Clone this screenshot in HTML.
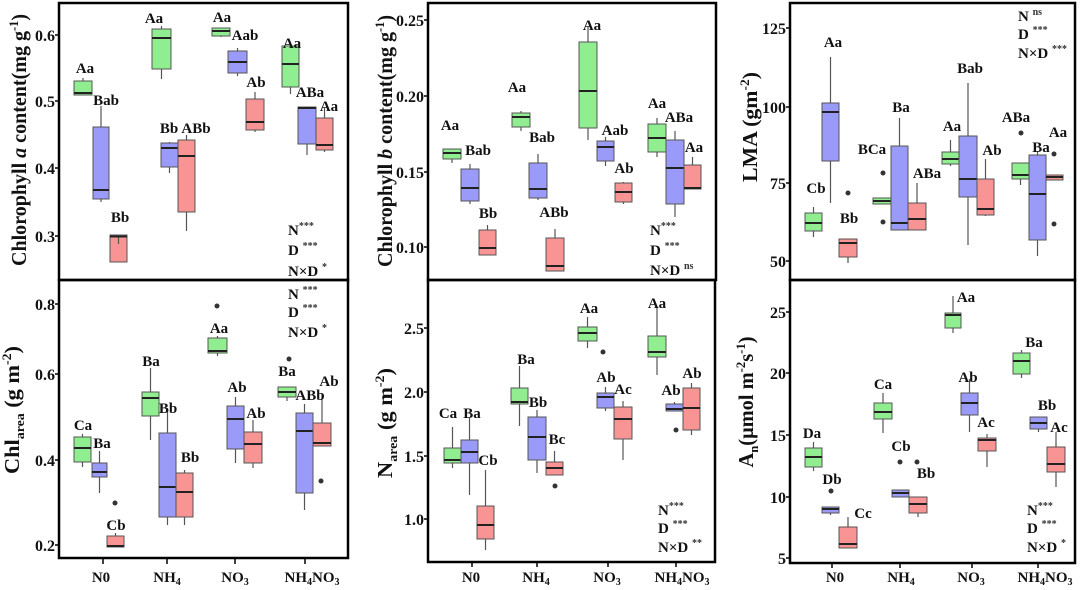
<!DOCTYPE html>
<html><head><meta charset="utf-8"><style>
html,body{margin:0;padding:0;background:#fff}
svg{display:block}
text{font-family:"Liberation Serif",serif;font-weight:bold;fill:#111}
.l{font-size:15px;text-anchor:middle}
.t{font-size:16px;text-anchor:end}
.x{font-size:15px;text-anchor:middle}
.s{font-size:15px}
.sp{font-size:10px;fill:#333}
.y{font-size:21px;text-anchor:middle}
.g{fill:#90EE90;stroke:#555;stroke-width:1}
.b{fill:#9A9AF8;stroke:#555;stroke-width:1}
.r{fill:#F89494;stroke:#555;stroke-width:1}
.w{stroke:#555;stroke-width:1.2}
.m{stroke:#222;stroke-width:2}
.o{fill:#333}
.f{fill:none;stroke:#000;stroke-width:2.5}
.k{stroke:#000;stroke-width:1.5}
</style></head><body>
<svg width="1080" height="590" viewBox="0 0 1080 590" xmlns="http://www.w3.org/2000/svg">
<rect width="1080" height="590" fill="#fff"/>

<!-- ============ Panel 1: Chl a ============ -->
<rect class="f" x="59" y="3" width="289" height="277"/>
<g>
<line class="k" x1="55" y1="35" x2="59" y2="35"/><line class="k" x1="55" y1="101" x2="59" y2="101"/><line class="k" x1="55" y1="168" x2="59" y2="168"/><line class="k" x1="55" y1="236" x2="59" y2="236"/>
<text class="t" x="55" y="41">0.6</text><text class="t" x="55" y="107">0.5</text><text class="t" x="55" y="174">0.4</text><text class="t" x="55" y="242">0.3</text>
</g>
<text class="y" transform="translate(26,140) rotate(-90)" textLength="252" lengthAdjust="spacingAndGlyphs">Chlorophyll <tspan font-style="italic">a</tspan> content(mg g<tspan font-size="13" dy="-8">-1</tspan><tspan dy="8">)</tspan></text>

<line class="w" x1="83" y1="78" x2="83" y2="95"/><rect class="g" x="74" y="81" width="18" height="14"/><line class="m" x1="74" y1="93" x2="92" y2="93"/>
<line class="w" x1="101" y1="106" x2="101" y2="202"/><rect class="b" x="93" y="127" width="16" height="72"/><line class="m" x1="93" y1="190" x2="109" y2="190"/>
<rect class="r" x="110" y="235" width="17" height="27"/><line class="w" x1="118.5" y1="236" x2="118.5" y2="244"/><line class="m" x1="110" y1="236.5" x2="127" y2="236.5"/>
<line class="w" x1="161.5" y1="26" x2="161.5" y2="79"/><rect class="g" x="152" y="29" width="19" height="40"/><line class="m" x1="152" y1="38" x2="171" y2="38"/>
<line class="w" x1="169.5" y1="142" x2="169.5" y2="173"/><rect class="b" x="161" y="143" width="17" height="24"/><line class="m" x1="161" y1="148" x2="178" y2="148"/>
<line class="w" x1="186.5" y1="135" x2="186.5" y2="231"/><rect class="r" x="178" y="140" width="17" height="72"/><line class="m" x1="178" y1="156" x2="195" y2="156"/>
<line class="w" x1="221" y1="28" x2="221" y2="37"/><rect class="g" x="212" y="28" width="18" height="8"/><line class="m" x1="212" y1="31" x2="230" y2="31"/>
<line class="w" x1="237.5" y1="48" x2="237.5" y2="76"/><rect class="b" x="228" y="51" width="19" height="22"/><line class="m" x1="228" y1="62" x2="247" y2="62"/>
<line class="w" x1="255" y1="92" x2="255" y2="132"/><rect class="r" x="246" y="99" width="18" height="31"/><line class="m" x1="246" y1="122" x2="264" y2="122"/>
<line class="w" x1="290.5" y1="43" x2="290.5" y2="94"/><rect class="g" x="282" y="46" width="17" height="41"/><line class="m" x1="282" y1="64" x2="299" y2="64"/>
<line class="w" x1="307" y1="107" x2="307" y2="155"/><rect class="b" x="298" y="107" width="18" height="37"/><line class="m" x1="298" y1="108" x2="316" y2="108"/>
<line class="w" x1="324.5" y1="108" x2="324.5" y2="152"/><rect class="r" x="316" y="118" width="17" height="32"/><line class="m" x1="316" y1="145" x2="333" y2="145"/>

<text class="l" x="85" y="73">Aa</text><text class="l" x="106" y="105">Bab</text><text class="l" x="120" y="222">Bb</text>
<text class="l" x="154" y="23">Aa</text><text class="l" x="169" y="133">Bb</text><text class="l" x="196" y="133">ABb</text>
<text class="l" x="222" y="22">Aa</text><text class="l" x="245" y="40">Aab</text><text class="l" x="256" y="87">Ab</text>
<text class="l" x="292" y="48">Aa</text><text class="l" x="310" y="97">ABa</text><text class="l" x="329" y="111">Aa</text>
<text class="s" x="288" y="235">N<tspan class="sp" dy="-6">***</tspan></text>
<text class="s" x="288" y="255">D <tspan class="sp" dy="-6">***</tspan></text>
<text class="s" x="288" y="276">N×D <tspan class="sp" dy="-6">*</tspan></text>

<!-- ============ Panel 2: Chl b ============ -->
<rect class="f" x="428" y="3" width="288" height="277"/>
<line class="k" x1="424" y1="20" x2="428" y2="20"/><line class="k" x1="424" y1="96" x2="428" y2="96"/><line class="k" x1="424" y1="172" x2="428" y2="172"/><line class="k" x1="424" y1="247" x2="428" y2="247"/>
<text class="t" x="424" y="26">0.25</text><text class="t" x="424" y="102">0.20</text><text class="t" x="424" y="178">0.15</text><text class="t" x="424" y="253">0.10</text>
<text class="y" transform="translate(392,141) rotate(-90)" textLength="252" lengthAdjust="spacingAndGlyphs">Chlorophyll <tspan font-style="italic">b</tspan> content(mg g<tspan font-size="13" dy="-8">-1</tspan><tspan dy="8">)</tspan></text>

<line class="w" x1="452" y1="149" x2="452" y2="163"/><rect class="g" x="443" y="149" width="18" height="10"/><line class="m" x1="443" y1="153" x2="461" y2="153"/>
<line class="w" x1="470" y1="164" x2="470" y2="204"/><rect class="b" x="461" y="169" width="18" height="32"/><line class="m" x1="461" y1="188" x2="479" y2="188"/>
<line class="w" x1="487.5" y1="225" x2="487.5" y2="255"/><rect class="r" x="479" y="230" width="17" height="25"/><line class="m" x1="479" y1="248" x2="496" y2="248"/>
<line class="w" x1="521" y1="111" x2="521" y2="131"/><rect class="g" x="512" y="113" width="18" height="14"/><line class="m" x1="512" y1="117" x2="530" y2="117"/>
<line class="w" x1="538" y1="154" x2="538" y2="200"/><rect class="b" x="529" y="163" width="18" height="35"/><line class="m" x1="529" y1="189" x2="547" y2="189"/>
<line class="w" x1="555" y1="229" x2="555" y2="271"/><rect class="r" x="546" y="238" width="18" height="33"/><line class="m" x1="546" y1="266" x2="564" y2="266"/>
<line class="w" x1="588" y1="27" x2="588" y2="140"/><rect class="g" x="579" y="42" width="18" height="86"/><line class="m" x1="579" y1="91" x2="597" y2="91"/>
<line class="w" x1="605.5" y1="137" x2="605.5" y2="166"/><rect class="b" x="597" y="141" width="17" height="20"/><line class="m" x1="597" y1="147" x2="614" y2="147"/>
<line class="w" x1="623.5" y1="182" x2="623.5" y2="204"/><rect class="r" x="615" y="183" width="17" height="19"/><line class="m" x1="615" y1="192" x2="632" y2="192"/>
<line class="w" x1="657" y1="118" x2="657" y2="157"/><rect class="g" x="648" y="124" width="18" height="28"/><line class="m" x1="648" y1="138" x2="666" y2="138"/>
<line class="w" x1="675" y1="131" x2="675" y2="217"/><rect class="b" x="666" y="140" width="18" height="64"/><line class="m" x1="666" y1="168" x2="684" y2="168"/>
<line class="w" x1="692.5" y1="157" x2="692.5" y2="189"/><rect class="r" x="684" y="165" width="17" height="24"/><line class="m" x1="684" y1="188" x2="701" y2="188"/>

<text class="l" x="450" y="130">Aa</text><text class="l" x="478" y="155">Bab</text><text class="l" x="488" y="218">Bb</text>
<text class="l" x="517" y="92">Aa</text><text class="l" x="542" y="142">Bab</text><text class="l" x="554" y="217">ABb</text>
<text class="l" x="592" y="30">Aa</text><text class="l" x="615" y="135">Aab</text><text class="l" x="624" y="173">Ab</text>
<text class="l" x="657" y="108">Aa</text><text class="l" x="679" y="122">ABa</text><text class="l" x="694" y="152">Aa</text>
<text class="s" x="650" y="235">N<tspan class="sp" dy="-6">***</tspan></text>
<text class="s" x="650" y="255">D <tspan class="sp" dy="-6">***</tspan></text>
<text class="s" x="650" y="275">N×D <tspan class="sp" dy="-6">ns</tspan></text>

<!-- ============ Panel 3: LMA ============ -->
<rect class="f" x="790" y="3" width="285" height="277"/>
<line class="k" x1="786" y1="28" x2="790" y2="28"/><line class="k" x1="786" y1="107" x2="790" y2="107"/><line class="k" x1="786" y1="183" x2="790" y2="183"/><line class="k" x1="786" y1="261" x2="790" y2="261"/>
<text class="t" x="786" y="34">125</text><text class="t" x="786" y="113">100</text><text class="t" x="786" y="189">75</text><text class="t" x="786" y="267">50</text>
<text class="y" transform="translate(757,127) rotate(-90)" textLength="110" lengthAdjust="spacingAndGlyphs">LMA  (gm<tspan font-size="13" dy="-8">-2</tspan><tspan dy="8">)</tspan></text>

<line class="w" x1="813.5" y1="207" x2="813.5" y2="237"/><rect class="g" x="805" y="213" width="17" height="18"/><line class="m" x1="805" y1="223" x2="822" y2="223"/>
<line class="w" x1="830.5" y1="57" x2="830.5" y2="203"/><rect class="b" x="822" y="103" width="17" height="58"/><line class="m" x1="822" y1="112" x2="839" y2="112"/>
<line class="w" x1="848" y1="239" x2="848" y2="263"/><rect class="r" x="839" y="239" width="18" height="18"/><line class="m" x1="839" y1="243" x2="857" y2="243"/><circle class="o" cx="848" cy="193" r="2.5"/>
<rect class="g" x="873" y="198" width="18" height="6"/><line class="m" x1="873" y1="201" x2="891" y2="201"/><circle class="o" cx="883" cy="173" r="2.5"/><circle class="o" cx="883" cy="222" r="2.5"/>
<line class="w" x1="899.5" y1="118" x2="899.5" y2="230"/><rect class="b" x="891" y="146" width="17" height="84"/><line class="m" x1="891" y1="223" x2="908" y2="223"/>
<line class="w" x1="917" y1="183" x2="917" y2="230"/><rect class="r" x="908" y="203" width="18" height="27"/><line class="m" x1="908" y1="219" x2="926" y2="219"/>
<line class="w" x1="950.5" y1="140" x2="950.5" y2="166"/><rect class="g" x="942" y="152" width="17" height="12"/><line class="m" x1="942" y1="159" x2="959" y2="159"/>
<line class="w" x1="968" y1="83" x2="968" y2="245"/><rect class="b" x="959" y="136" width="18" height="61"/><line class="m" x1="959" y1="179" x2="977" y2="179"/>
<line class="w" x1="985.5" y1="159" x2="985.5" y2="216"/><rect class="r" x="977" y="179" width="17" height="36"/><line class="m" x1="977" y1="209" x2="994" y2="209"/>
<line class="w" x1="1020.5" y1="163" x2="1020.5" y2="185"/><rect class="g" x="1012" y="163" width="17" height="16"/><line class="m" x1="1012" y1="175" x2="1029" y2="175"/><circle class="o" cx="1021" cy="133" r="2.5"/>
<line class="w" x1="1037.5" y1="151" x2="1037.5" y2="256"/><rect class="b" x="1029" y="155" width="17" height="85"/><line class="m" x1="1029" y1="194" x2="1046" y2="194"/>
<rect class="r" x="1046" y="175" width="17" height="5"/><line class="m" x1="1046" y1="177" x2="1063" y2="177"/><circle class="o" cx="1054" cy="154" r="2.5"/><circle class="o" cx="1054" cy="224" r="2.5"/>

<text class="l" x="816" y="193">Cb</text><text class="l" x="833" y="47">Aa</text><text class="l" x="849" y="223">Bb</text>
<text class="l" x="872" y="154">BCa</text><text class="l" x="901" y="112">Ba</text><text class="l" x="927" y="178">ABa</text>
<text class="l" x="952" y="131">Aa</text><text class="l" x="970" y="73">Bab</text><text class="l" x="992" y="155">Ab</text>
<text class="l" x="1016" y="122">ABa</text><text class="l" x="1041" y="152">Ba</text><text class="l" x="1058" y="137">Aa</text>
<text class="s" x="1018" y="21">N <tspan class="sp" dy="-6">ns</tspan></text>
<text class="s" x="1018" y="39">D <tspan class="sp" dy="-6">***</tspan></text>
<text class="s" x="1018" y="58">N×D <tspan class="sp" dy="-6">***</tspan></text>

<!-- ============ Panel 4: Chl area ============ -->
<rect class="f" x="59" y="280" width="289" height="278"/>
<line class="k" x1="55" y1="304" x2="59" y2="304"/><line class="k" x1="55" y1="374" x2="59" y2="374"/><line class="k" x1="55" y1="460" x2="59" y2="460"/><line class="k" x1="55" y1="545" x2="59" y2="545"/>
<text class="t" x="55" y="310">0.8</text><text class="t" x="55" y="380">0.6</text><text class="t" x="55" y="466">0.4</text><text class="t" x="55" y="551">0.2</text>
<text class="y" transform="translate(19,410) rotate(-90)" textLength="128" lengthAdjust="spacingAndGlyphs">Chl<tspan font-size="13" dy="5">area</tspan><tspan dy="-5"> (g m</tspan><tspan font-size="13" dy="-8">-2</tspan><tspan dy="8">)</tspan></text>

<line class="w" x1="82.5" y1="434" x2="82.5" y2="467"/><rect class="g" x="74" y="437" width="17" height="25"/><line class="m" x1="74" y1="448" x2="91" y2="448"/>
<line class="w" x1="99.5" y1="451" x2="99.5" y2="493"/><rect class="b" x="92" y="463" width="15" height="14"/><line class="m" x1="92" y1="472" x2="107" y2="472"/><circle class="o" cx="115" cy="503" r="2.5"/>
<line class="w" x1="115.5" y1="533" x2="115.5" y2="547"/><rect class="r" x="107" y="536" width="17" height="11"/><line class="m" x1="107" y1="546" x2="124" y2="546"/>
<line class="w" x1="150.5" y1="368" x2="150.5" y2="440"/><rect class="g" x="142" y="392" width="17" height="24"/><line class="m" x1="142" y1="398" x2="159" y2="398"/>
<line class="w" x1="167.5" y1="408" x2="167.5" y2="525"/><rect class="b" x="159" y="433" width="17" height="84"/><line class="m" x1="159" y1="487" x2="176" y2="487"/>
<line class="w" x1="184.5" y1="470" x2="184.5" y2="525"/><rect class="r" x="176" y="473" width="17" height="44"/><line class="m" x1="176" y1="492" x2="193" y2="492"/>
<line class="w" x1="217.5" y1="336" x2="217.5" y2="356"/><rect class="g" x="208" y="338" width="19" height="15"/><line class="m" x1="208" y1="351" x2="227" y2="351"/><circle class="o" cx="217" cy="306" r="2.5"/>
<line class="w" x1="235.5" y1="397" x2="235.5" y2="463"/><rect class="b" x="227" y="406" width="17" height="43"/><line class="m" x1="227" y1="419" x2="244" y2="419"/>
<line class="w" x1="253" y1="420" x2="253" y2="468"/><rect class="r" x="244" y="432" width="18" height="31"/><line class="m" x1="244" y1="444" x2="262" y2="444"/>
<line class="w" x1="287" y1="387" x2="287" y2="401"/><rect class="g" x="278" y="387" width="18" height="10"/><line class="m" x1="278" y1="392" x2="296" y2="392"/><circle class="o" cx="289" cy="359" r="2.5"/>
<line class="w" x1="304.5" y1="404" x2="304.5" y2="510"/><rect class="b" x="296" y="413" width="17" height="80"/><line class="m" x1="296" y1="431" x2="313" y2="431"/>
<line class="w" x1="322" y1="395" x2="322" y2="446"/><rect class="r" x="313" y="423" width="18" height="23"/><line class="m" x1="313" y1="443" x2="331" y2="443"/><circle class="o" cx="321" cy="481" r="2.5"/>

<text class="l" x="83" y="430">Ca</text><text class="l" x="102" y="448">Ba</text><text class="l" x="116" y="530">Cb</text>
<text class="l" x="151" y="366">Ba</text><text class="l" x="168" y="413">Bb</text><text class="l" x="190" y="462">Bb</text>
<text class="l" x="219" y="333">Aa</text><text class="l" x="237" y="392">Ab</text><text class="l" x="256" y="418">Ab</text>
<text class="l" x="287" y="376">Ba</text><text class="l" x="310" y="400">ABb</text><text class="l" x="329" y="386">Ab</text>
<text class="s" x="288" y="299">N <tspan class="sp" dy="-6">***</tspan></text>
<text class="s" x="288" y="317">D <tspan class="sp" dy="-6">***</tspan></text>
<text class="s" x="288" y="337">N×D <tspan class="sp" dy="-6">*</tspan></text>
<line class="k" x1="103" y1="559" x2="103" y2="564"/><line class="k" x1="167" y1="559" x2="167" y2="564"/><line class="k" x1="235" y1="559" x2="235" y2="564"/><line class="k" x1="305" y1="559" x2="305" y2="564"/>
<text class="x" x="101" y="582">N0</text>
<text class="x" x="167" y="582">NH<tspan font-size="10" dy="3">4</tspan></text>
<text class="x" x="235" y="582">NO<tspan font-size="10" dy="3">3</tspan></text>
<text class="x" x="312" y="582">NH<tspan font-size="10" dy="3">4</tspan><tspan dy="-3">NO</tspan><tspan font-size="10" dy="3">3</tspan></text>

<!-- ============ Panel 5: N area ============ -->
<rect class="f" x="428" y="280" width="287" height="282"/>
<line class="k" x1="424" y1="328" x2="428" y2="328"/><line class="k" x1="424" y1="392" x2="428" y2="392"/><line class="k" x1="424" y1="456" x2="428" y2="456"/><line class="k" x1="424" y1="519" x2="428" y2="519"/>
<text class="t" x="424" y="334">2.5</text><text class="t" x="424" y="398">2.0</text><text class="t" x="424" y="462">1.5</text><text class="t" x="424" y="525">1.0</text>
<text class="y" transform="translate(392,423) rotate(-90)" textLength="110" lengthAdjust="spacingAndGlyphs">N<tspan font-size="13" dy="5">area</tspan><tspan dy="-5"> (g m</tspan><tspan font-size="13" dy="-8">-2</tspan><tspan dy="8">)</tspan></text>

<line class="w" x1="452.5" y1="427" x2="452.5" y2="468"/><rect class="g" x="444" y="448" width="17" height="15"/><line class="m" x1="444" y1="460" x2="461" y2="460"/>
<line class="w" x1="469.5" y1="418" x2="469.5" y2="495"/><rect class="b" x="461" y="440" width="17" height="23"/><line class="m" x1="461" y1="452" x2="478" y2="452"/>
<line class="w" x1="485.5" y1="470" x2="485.5" y2="550"/><rect class="r" x="477" y="506" width="17" height="33"/><line class="m" x1="477" y1="525" x2="494" y2="525"/>
<line class="w" x1="519.5" y1="366" x2="519.5" y2="426"/><rect class="g" x="511" y="388" width="17" height="16"/><line class="m" x1="511" y1="402" x2="528" y2="402"/>
<line class="w" x1="537" y1="410" x2="537" y2="473"/><rect class="b" x="528" y="417" width="18" height="43"/><line class="m" x1="528" y1="437" x2="546" y2="437"/>
<line class="w" x1="554.5" y1="451" x2="554.5" y2="475"/><rect class="r" x="546" y="462" width="17" height="13"/><line class="m" x1="546" y1="468" x2="563" y2="468"/><circle class="o" cx="555" cy="486" r="2.5"/>
<line class="w" x1="587.5" y1="317" x2="587.5" y2="348"/><rect class="g" x="578" y="327" width="19" height="14"/><line class="m" x1="578" y1="333" x2="597" y2="333"/><circle class="o" cx="603" cy="352" r="2.5"/>
<line class="w" x1="605.5" y1="387" x2="605.5" y2="411"/><rect class="b" x="597" y="393" width="17" height="15"/><line class="m" x1="597" y1="397" x2="614" y2="397"/>
<line class="w" x1="623" y1="401" x2="623" y2="460"/><rect class="r" x="614" y="407" width="18" height="32"/><line class="m" x1="614" y1="419" x2="632" y2="419"/>
<line class="w" x1="657" y1="307" x2="657" y2="375"/><rect class="g" x="648" y="336" width="18" height="21"/><line class="m" x1="648" y1="352" x2="666" y2="352"/>
<line class="w" x1="674.5" y1="402" x2="674.5" y2="411"/><rect class="b" x="666" y="404" width="17" height="7"/><line class="m" x1="666" y1="409" x2="683" y2="409"/><circle class="o" cx="676" cy="430" r="2.5"/>
<line class="w" x1="691.5" y1="383" x2="691.5" y2="435"/><rect class="r" x="683" y="388" width="17" height="42"/><line class="m" x1="683" y1="408" x2="700" y2="408"/>

<text class="l" x="448" y="418">Ca</text><text class="l" x="472" y="418">Ba</text><text class="l" x="488" y="465">Cb</text>
<text class="l" x="526" y="364">Ba</text><text class="l" x="538" y="407">Bb</text><text class="l" x="557" y="444">Bc</text>
<text class="l" x="589" y="313">Aa</text><text class="l" x="606" y="382">Ab</text><text class="l" x="623" y="394">Ac</text>
<text class="l" x="657" y="308">Aa</text><text class="l" x="671" y="395">Ab</text><text class="l" x="692" y="378">Ab</text>
<text class="s" x="658" y="515">N<tspan class="sp" dy="-6">***</tspan></text>
<text class="s" x="658" y="533">D <tspan class="sp" dy="-6">***</tspan></text>
<text class="s" x="658" y="552">N×D <tspan class="sp" dy="-6">**</tspan></text>
<line class="k" x1="472" y1="563" x2="472" y2="567"/><line class="k" x1="537" y1="563" x2="537" y2="567"/><line class="k" x1="608" y1="563" x2="608" y2="567"/><line class="k" x1="676" y1="563" x2="676" y2="567"/>
<text class="x" x="471" y="582">N0</text>
<text class="x" x="536" y="582">NH<tspan font-size="10" dy="3">4</tspan></text>
<text class="x" x="607" y="582">NO<tspan font-size="10" dy="3">3</tspan></text>
<text class="x" x="682" y="582">NH<tspan font-size="10" dy="3">4</tspan><tspan dy="-3">NO</tspan><tspan font-size="10" dy="3">3</tspan></text>

<!-- ============ Panel 6: An ============ -->
<rect class="f" x="790" y="280" width="285" height="283"/>
<line class="k" x1="786" y1="312" x2="790" y2="312"/><line class="k" x1="786" y1="373" x2="790" y2="373"/><line class="k" x1="786" y1="435" x2="790" y2="435"/><line class="k" x1="786" y1="497" x2="790" y2="497"/><line class="k" x1="786" y1="558" x2="790" y2="558"/>
<text class="t" x="786" y="318">25</text><text class="t" x="786" y="379">20</text><text class="t" x="786" y="441">15</text><text class="t" x="786" y="503">10</text><text class="t" x="786" y="564">5</text>
<text class="y" transform="translate(753,402) rotate(-90)" textLength="131" lengthAdjust="spacingAndGlyphs">A<tspan font-size="13" dy="5">n</tspan><tspan dy="-5">(μmol m</tspan><tspan font-size="13" dy="-8">-2</tspan><tspan dy="8">s</tspan><tspan font-size="13" dy="-8">-1</tspan><tspan dy="8">)</tspan></text>

<line class="w" x1="813.5" y1="442" x2="813.5" y2="471"/><rect class="g" x="805" y="448" width="17" height="19"/><line class="m" x1="805" y1="457" x2="822" y2="457"/>
<line class="w" x1="830.5" y1="508" x2="830.5" y2="515"/><rect class="b" x="822" y="507" width="17" height="6"/><line class="m" x1="822" y1="509" x2="839" y2="509"/><circle class="o" cx="831" cy="491" r="2.5"/>
<line class="w" x1="848" y1="517" x2="848" y2="548"/><rect class="r" x="839" y="527" width="18" height="21"/><line class="m" x1="839" y1="544" x2="857" y2="544"/>
<line class="w" x1="883" y1="393" x2="883" y2="433"/><rect class="g" x="874" y="403" width="18" height="16"/><line class="m" x1="874" y1="412" x2="892" y2="412"/>
<rect class="b" x="892" y="490" width="17" height="7"/><line class="m" x1="892" y1="493" x2="909" y2="493"/><circle class="o" cx="900" cy="462" r="2.5"/>
<line class="w" x1="918" y1="497" x2="918" y2="517"/><rect class="r" x="909" y="497" width="18" height="16"/><line class="m" x1="909" y1="504" x2="927" y2="504"/><circle class="o" cx="917" cy="462" r="2.5"/>
<line class="w" x1="953" y1="296" x2="953" y2="333"/><rect class="g" x="945" y="313" width="16" height="15"/><line class="m" x1="945" y1="315" x2="961" y2="315"/>
<line class="w" x1="969.5" y1="379" x2="969.5" y2="432"/><rect class="b" x="961" y="393" width="17" height="22"/><line class="m" x1="961" y1="403" x2="978" y2="403"/>
<line class="w" x1="987" y1="434" x2="987" y2="467"/><rect class="r" x="978" y="438" width="18" height="13"/><line class="m" x1="978" y1="440" x2="996" y2="440"/>
<line class="w" x1="1021.5" y1="350" x2="1021.5" y2="378"/><rect class="g" x="1013" y="353" width="17" height="21"/><line class="m" x1="1013" y1="361" x2="1030" y2="361"/>
<line class="w" x1="1038.5" y1="417" x2="1038.5" y2="432"/><rect class="b" x="1030" y="417" width="17" height="12"/><line class="m" x1="1030" y1="423" x2="1047" y2="423"/>
<line class="w" x1="1056" y1="432" x2="1056" y2="487"/><rect class="r" x="1047" y="447" width="18" height="25"/><line class="m" x1="1047" y1="464" x2="1065" y2="464"/>

<text class="l" x="812" y="438">Da</text><text class="l" x="832" y="484">Db</text><text class="l" x="863" y="518">Cc</text>
<text class="l" x="883" y="389">Ca</text><text class="l" x="901" y="451">Cb</text><text class="l" x="926" y="478">Bb</text>
<text class="l" x="966" y="302">Aa</text><text class="l" x="968" y="382">Ab</text><text class="l" x="986" y="427">Ac</text>
<text class="l" x="1034" y="347">Ba</text><text class="l" x="1047" y="410">Bb</text><text class="l" x="1059" y="432">Ac</text>
<text class="s" x="1027" y="515">N<tspan class="sp" dy="-6">***</tspan></text>
<text class="s" x="1027" y="533">D <tspan class="sp" dy="-6">***</tspan></text>
<text class="s" x="1027" y="552">N×D <tspan class="sp" dy="-6">*</tspan></text>
<line class="k" x1="832" y1="564" x2="832" y2="568"/><line class="k" x1="900" y1="564" x2="900" y2="568"/><line class="k" x1="972" y1="564" x2="972" y2="568"/><line class="k" x1="1038" y1="564" x2="1038" y2="568"/>
<text class="x" x="835" y="582">N0</text>
<text class="x" x="901" y="582">NH<tspan font-size="10" dy="3">4</tspan></text>
<text class="x" x="971" y="582">NO<tspan font-size="10" dy="3">3</tspan></text>
<text class="x" x="1045" y="582">NH<tspan font-size="10" dy="3">4</tspan><tspan dy="-3">NO</tspan><tspan font-size="10" dy="3">3</tspan></text>
</svg>
</body></html>
